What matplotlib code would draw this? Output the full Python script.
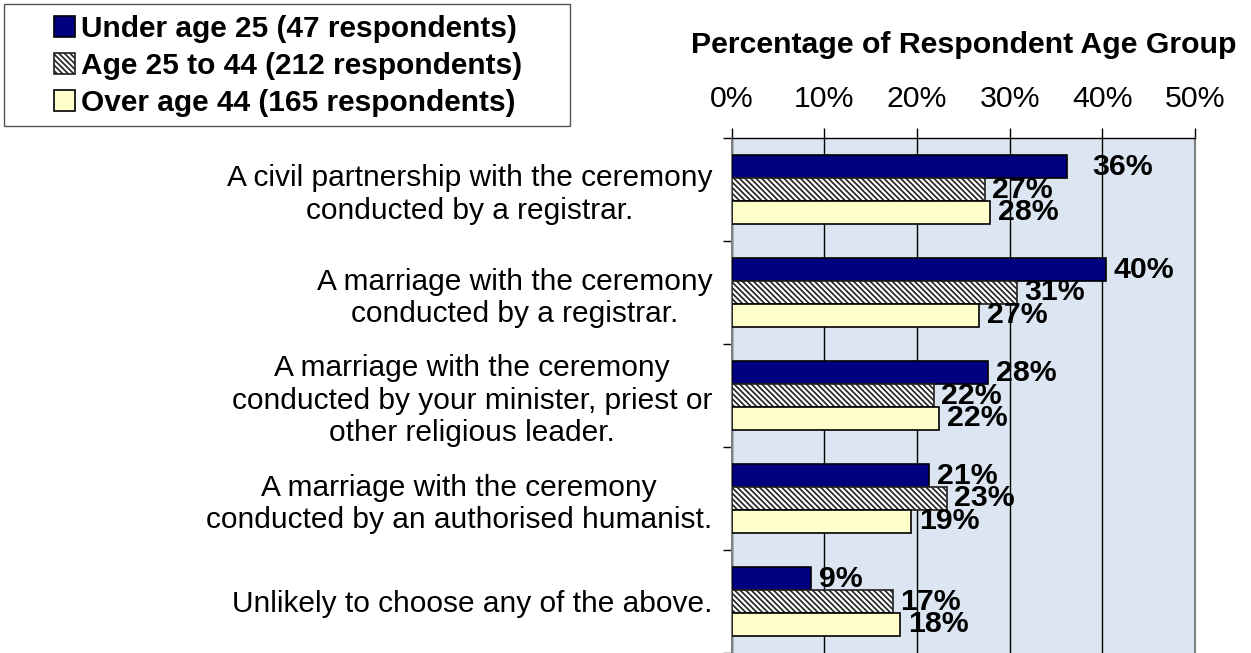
import numpy as np
import matplotlib as mpl
mpl.use("Agg")
import matplotlib.pyplot as plt
from matplotlib.patches import Rectangle

plt.rcParams['font.family'] = ['Liberation Sans', 'DejaVu Sans']
plt.rcParams['hatch.linewidth'] = 1.2

# data (percent of each age group)
categories = [
    "A civil partnership with the ceremony\nconducted by a registrar.",
    "A marriage with the ceremony\nconducted by a registrar.",
    "A marriage with the ceremony\nconducted by your minister, priest or\nother religious leader.",
    "A marriage with the ceremony\nconducted by an authorised humanist.",
    "Unlikely to choose any of the above.",
]
series_names = [
    "Under age 25 (47 respondents)",
    "Age 25 to 44 (212 respondents)",
    "Over age 44 (165 respondents)",
]
under_25 = [36.2, 40.4, 27.7, 21.3, 8.6]
age_25_44 = [27.3, 30.8, 21.8, 23.2, 17.4]
over_44 = [27.9, 26.7, 22.4, 19.4, 18.2]
x_ticks = [0, 10, 20, 30, 40, 50]
x_title = "Percentage of Respondent Age Group"

FS = 21.8
W, H = 1251, 653
fig = plt.figure(figsize=(W / 100, H / 100), dpi=100)
ax = fig.add_axes([731.7 / W, 0, (1195 - 731.7) / W, (H - 138) / H])
ax.set_facecolor('#DCE6F2')

styles = [
    dict(color='#000080', edgecolor='black'),
    dict(color='white', edgecolor='#202020', hatch='\\\\\\\\\\\\'),
    dict(color='#FFFFCC', edgecolor='black'),
]
bar_h = 0.223
centers = np.arange(len(categories)) + 0.5
all_series = [under_25, age_25_44, over_44]
for s, (vals, st) in enumerate(zip(all_series, styles)):
    ypos = centers + (s - 1) * bar_h
    bars = ax.barh(ypos, vals, height=bar_h, linewidth=1.2, label=series_names[s], zorder=3, **st)
    for i, v in enumerate(vals):
        dx = 18 if (s == 0 and i == 0) else 5.5
        ax.annotate(f"{round(v)}%", (v, ypos[i]), xytext=(dx, 0), textcoords='offset points',
                    va='center', ha='left', fontsize=FS, fontweight='bold', zorder=5)

ax.set_xlim(0, 50)
ax.set_ylim(len(categories), 0)
ax.xaxis.tick_top()
ax.set_xticks(x_ticks)
ax.set_xticklabels([f"{t}%" for t in x_ticks], fontsize=FS)
ax.tick_params(axis='x', length=7, width=1, pad=11, direction='out')

ax.set_yticks(np.arange(len(categories) + 1))
ax.set_yticklabels([])
ax.tick_params(axis='y', which='major', length=6.5, width=1, direction='out')
ax.set_yticks(centers, minor=True)
ax.set_yticklabels(categories, minor=True, fontsize=21.5, linespacing=1.2)
ax.tick_params(axis='y', which='minor', length=0, pad=14)
for t in ax.get_yticklabels(minor=True):
    t.set_multialignment('center')

ax.grid(axis='x', color='black', linewidth=1)
ax.set_axisbelow(True)
for side in ['left', 'right']:
    ax.spines[side].set_color('#808080')
    ax.spines[side].set_linewidth(1.5)
ax.spines['top'].set_color('black')
ax.spines['top'].set_linewidth(1)
ax.spines['bottom'].set_visible(False)

fig.text((731.7 + 1195) / 2 / W, 1 - 53 / H, x_title, ha='center', va='baseline',
         fontsize=FS, fontweight='bold')

# legend (box drawn separately to match the wide frame)
leg = fig.legend(loc='center', bbox_to_anchor=(288 / W, 1 - 66 / H), frameon=False,
                 prop={'weight': 'bold', 'size': 21.5}, handlelength=0.68,
                 handleheight=0.68, handletextpad=0.2, labelspacing=0.3, borderpad=0)
fig.patches.append(Rectangle((4 / W, 1 - 126 / H), 566 / W, 122 / H, transform=fig.transFigure,
                             fill=False, edgecolor='#555555', linewidth=1))

fig.savefig('out.png', dpi=100)
